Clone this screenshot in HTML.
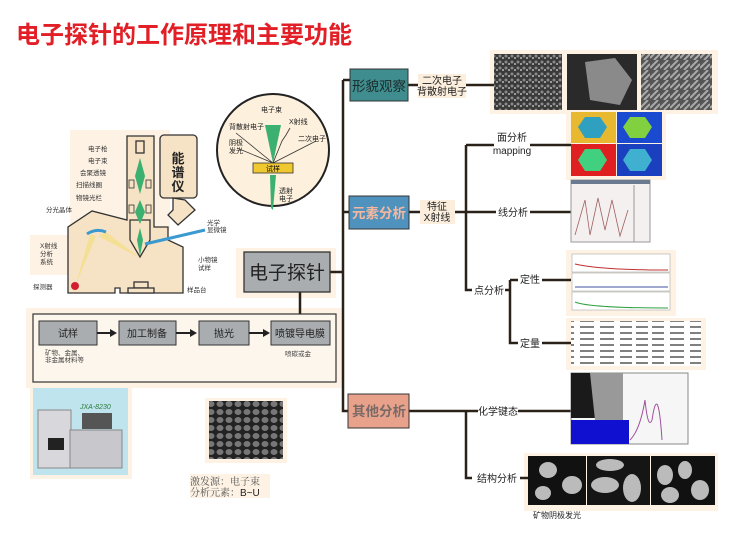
<!DOCTYPE html>
<html><head><meta charset="utf-8"><style>
html,body{margin:0;padding:0;background:#fff;}
svg{display:block;font-family:"Liberation Sans","Noto Sans CJK SC",sans-serif;}
</style></head><body>
<svg width="756" height="533" viewBox="0 0 756 533" xmlns="http://www.w3.org/2000/svg">
<defs>
<pattern id="sem1" width="6" height="6" patternUnits="userSpaceOnUse"><rect width="6" height="6" fill="#3a3a3a"/><circle cx="2" cy="2" r="1.5" fill="#8a8a8a"/><circle cx="5" cy="4" r="1" fill="#bbb"/></pattern>
<pattern id="rods" width="10" height="10" patternUnits="userSpaceOnUse"><rect width="10" height="10" fill="#555"/><path d="M0 8 L8 0 M4 10 L10 4" stroke="#aaa" stroke-width="2"/></pattern>
<pattern id="grain" width="9" height="8" patternUnits="userSpaceOnUse"><rect width="9" height="8" fill="#222"/><ellipse cx="4" cy="4" rx="3.5" ry="3" fill="#777"/></pattern>
<pattern id="tab" width="130" height="6" patternUnits="userSpaceOnUse"><rect width="130" height="6" fill="#fff"/><path d="M2 3 H14 M20 3 H34 M40 3 H54 M60 3 H74 M80 3 H94 M100 3 H112 M116 3 H128" stroke="#555" stroke-width="1.5"/></pattern>
</defs>
<rect width="756" height="533" fill="#fff"/>
<g fill="#fdf2e4">
<rect x="70" y="130" width="100" height="100"/><rect x="30" y="235" width="40" height="40"/>
<rect x="236" y="248" width="100" height="50"/><rect x="26" y="308" width="316" height="80"/>
<rect x="490" y="50" width="228" height="64"/><rect x="566" y="108" width="100" height="72"/>
<rect x="566" y="250" width="110" height="66"/><rect x="566" y="318" width="140" height="52"/>
<rect x="524" y="453" width="194" height="58"/><rect x="30" y="385" width="102" height="94"/>
<rect x="205" y="398" width="82" height="65"/><rect x="190" y="474" width="80" height="24"/>
</g>
<text x="16" y="43" font-size="24" font-weight="bold" fill="#e21f26">电子探针的工作原理和主要功能</text>

<g stroke="#333" stroke-width="1.3" fill="#f6e2c4">
<path d="M68 293 V227 L92 211 L127 220 V136 H154 V227 H168 V240 L183 247 V293 H120 V288 H115 V293 Z"/>
<path d="M130 220 H150 V240 L140 257 L130 240 Z"/>
<rect x="160" y="135" width="37" height="63" rx="4"/>
<path d="M173 198 V210 L168 215 L178 225 L195 210 L185 200 Z"/>
<rect x="134" y="282" width="14" height="6"/><rect x="128" y="288" width="26" height="5"/>
<rect x="136" y="141" width="8" height="12"/>
</g>
<g fill="none" stroke="#333" stroke-width="0.8"><rect x="129" y="180" width="5" height="8"/><rect x="146" y="180" width="5" height="8"/><rect x="129" y="205" width="5" height="8"/><rect x="146" y="205" width="5" height="8"/></g>
<text x="178" y="163" font-size="13" font-weight="bold" text-anchor="middle" fill="#222">能</text>
<text x="178" y="177" font-size="13" font-weight="bold" text-anchor="middle" fill="#222">谱</text>
<text x="178" y="191" font-size="13" font-weight="bold" text-anchor="middle" fill="#222">仪</text>
<path d="M140 158 L145 176 L140 194 L135 176 Z M140 200 L145 212 L140 224 L135 212 Z M140 228 L143 240 L140 256 L137 240 Z" fill="#3bb070"/>
<path d="M140 258 L98 236 L106 232 Z" fill="#f2e08a" opacity="0.8"/>
<path d="M90 234 L76 284 L96 236 Z" fill="#f2e08a" opacity="0.8"/>
<path d="M87 234 Q96 228 106 232" stroke="#3a9ad0" stroke-width="3" fill="none"/>
<path d="M145 244 L205 230" stroke="#3a9ad0" stroke-width="3"/>
<circle cx="75" cy="286" r="4" fill="#d02030"/>
<g font-size="6.5" fill="#333">
<text x="88" y="151">电子枪</text><text x="88" y="163">电子束</text><text x="80" y="175">会聚透镜</text><text x="76" y="187">扫描线圈</text><text x="76" y="200">物镜光栏</text><text x="46" y="212">分光晶体</text>
<text x="40" y="248">X射线</text><text x="40" y="256">分析</text><text x="40" y="264">系统</text><text x="33" y="289">探测器</text>
<text x="207" y="225">光学</text><text x="207" y="232">显微镜</text><text x="198" y="262">小物镜</text><text x="198" y="270">试样</text><text x="187" y="292">样品台</text>
</g>

<circle cx="273" cy="150" r="56" fill="#fdf0dc" stroke="#222" stroke-width="2"/>
<path d="M265 125 H281 L273 163 Z M270 175 H276 L273 210 L271 208 Z" fill="#3bb070"/>
<rect x="253" y="163" width="40" height="10" fill="#f0c830" stroke="#333" stroke-width="0.8"/>
<text x="273" y="171" font-size="7" text-anchor="middle">试样</text>
<g stroke="#333" stroke-width="0.8" fill="none"><path d="M273 163 L236 133 M273 163 L237 148 M273 163 L316 141 M273 163 L282 141 L286 135 L290 128"/></g>
<g font-size="7" fill="#222"><text x="261" y="112">电子束</text><text x="289" y="124">X射线</text><text x="229" y="129">背散射电子</text><text x="298" y="141">二次电子</text><text x="229" y="145">阴极</text><text x="229" y="153">发光</text><text x="279" y="193">透射</text><text x="279" y="201">电子</text></g>

<g stroke="#2a2218" stroke-width="2.5" fill="none">
<path d="M343 80 V411 H350"/><path d="M343 80 H350"/><path d="M343 212 H350"/>
<path d="M330 272 H343"/><path d="M300 292 V318"/>
<path d="M408 85 H418"/><path d="M466 85 H494"/>
<path d="M409 212 H420"/><path d="M455 212 H496 M466 145 V290 H472 M466 145 H494 M530 145 H571 M530 212 H571"/>
<path d="M505 290 H510 M510 280 V343 H518 M510 280 H518 M542 280 H571 M542 343 H571"/>
<path d="M409 411 H478 M466 411 V478 H472 M518 411 H571 M520 478 H528"/>
</g>
<rect x="244" y="252" width="86" height="40" fill="#a9adb0" stroke="#333" stroke-width="1.3"/>
<text x="287" y="279" font-size="19" text-anchor="middle" fill="#222">电子探针</text>
<rect x="350" y="69" width="58" height="32" fill="#3f8d8e" stroke="#333"/>
<text x="379" y="91" font-size="13.5" text-anchor="middle" fill="#1c2a2a">形貌观察</text>
<rect x="349" y="196" width="60" height="33" fill="#4f92bd" stroke="#333"/>
<text x="379" y="218" font-size="13.5" text-anchor="middle" fill="#f4b8a0" font-weight="bold">元素分析</text>
<rect x="348" y="394" width="61" height="34" fill="#e8a28b" stroke="#333"/>
<text x="379" y="416" font-size="13.5" text-anchor="middle" fill="#7a6a66" font-weight="bold">其他分析</text>

<g font-size="10" fill="#222" text-anchor="middle">
<rect x="418" y="74" width="48" height="24" fill="#fbeedd"/>
<text x="442" y="84">二次电子</text><text x="442" y="95">背散射电子</text>
<rect x="420" y="200" width="35" height="24" fill="#fbeedd"/>
<text x="437" y="210">特征</text><text x="437" y="221">X射线</text>
<text x="512" y="141">面分析</text><text x="512" y="154">mapping</text>
<text x="513" y="216">线分析</text><text x="489" y="294">点分析</text>
<text x="530" y="283">定性</text><text x="530" y="347">定量</text>
<text x="498" y="415">化学键态</text><text x="497" y="482">结构分析</text>
<text x="557" y="518" font-size="8">矿物阴极发光</text>
</g>

<rect x="494" y="54" width="68" height="56" fill="url(#sem1)"/>
<rect x="567" y="54" width="70" height="56" fill="#2a2a2a"/><path d="M585 62 L615 58 L632 80 L620 105 L590 100 Z" fill="#8a8a8a"/>
<rect x="641" y="54" width="71" height="56" fill="url(#rods)"/>
<g><rect x="571" y="112" width="45" height="31" fill="#e8b830"/><path d="M585 117 L600 117 L607 127 L600 138 L585 138 L578 127 Z" fill="#30a0c0"/>
<rect x="617" y="112" width="45" height="31" fill="#1a4ad0"/><path d="M630 117 L645 117 L652 127 L645 138 L630 138 L623 127 Z" fill="#80d040"/>
<rect x="571" y="144" width="45" height="32" fill="#e02020"/><path d="M585 149 L600 149 L607 160 L600 171 L585 171 L578 160 Z" fill="#40d080"/>
<rect x="617" y="144" width="45" height="32" fill="#1a40c0"/><path d="M630 149 L645 149 L652 160 L645 171 L630 171 L623 160 Z" fill="#40b0d0"/></g>
<rect x="571" y="180" width="79" height="62" fill="#f4f0f0" stroke="#999"/>
<rect x="571" y="180" width="79" height="4" fill="#6a7a90"/>
<path d="M575 235 L585 200 L590 235 L598 198 L605 230 L612 200 L620 236 L628 210" stroke="#a06060" fill="none" stroke-width="0.8"/>
<line x1="634" y1="185" x2="634" y2="242" stroke="#999"/>
<g fill="#fff" stroke="#aaa" stroke-width="0.6"><rect x="572" y="254" width="98" height="18"/><rect x="572" y="273" width="98" height="18"/><rect x="572" y="292" width="98" height="18"/></g>
<path d="M575 264 Q600 270 668 270" stroke="#c03030" fill="none"/>
<path d="M575 287 H668" stroke="#4050a0"/><path d="M575 302 Q590 308 668 308" stroke="#30a040" fill="none"/>
<rect x="571" y="321" width="130" height="45" fill="url(#tab)"/>
<rect x="571" y="373" width="117" height="71" fill="#f6f6f6" stroke="#888"/>
<rect x="571" y="373" width="52" height="45" fill="#1a1a1a"/><path d="M590 373 L623 373 L623 420 L595 420 Z" fill="#999"/>
<rect x="571" y="420" width="58" height="24" fill="#1010d0"/>
<path d="M630 440 Q640 430 645 400 Q648 430 652 420 Q658 380 662 440" stroke="#a050a0" fill="none"/>
<rect x="528" y="456" width="58" height="49" fill="#111"/><rect x="587" y="456" width="63" height="49" fill="#151515"/><rect x="651" y="456" width="64" height="49" fill="#111"/>
<g fill="#bbb"><ellipse cx="548" cy="470" rx="9" ry="8"/><ellipse cx="572" cy="485" rx="10" ry="9"/><ellipse cx="543" cy="493" rx="8" ry="7"/>
<ellipse cx="610" cy="465" rx="14" ry="6"/><ellipse cx="605" cy="485" rx="14" ry="8"/><ellipse cx="632" cy="488" rx="9" ry="14"/>
<ellipse cx="665" cy="475" rx="8" ry="10"/><ellipse cx="685" cy="470" rx="7" ry="9"/><ellipse cx="670" cy="495" rx="9" ry="8"/><ellipse cx="700" cy="490" rx="9" ry="10"/></g>

<rect x="33" y="314" width="303" height="68" fill="#fdf6ec" stroke="#333" stroke-width="1.2"/>
<g fill="#a9adb0" stroke="#333"><rect x="39" y="321" width="58" height="24"/><rect x="119" y="321" width="57" height="24"/><rect x="199" y="321" width="50" height="24"/><rect x="271" y="321" width="59" height="24"/></g>
<g stroke="#222" stroke-width="2"><line x1="97" y1="333" x2="112" y2="333"/><line x1="176" y1="333" x2="192" y2="333"/><line x1="249" y1="333" x2="265" y2="333"/></g>
<g fill="#222"><path d="M117 333 L110 329 V337 Z"/><path d="M197 333 L190 329 V337 Z"/><path d="M270 333 L263 329 V337 Z"/></g>
<g font-size="10" text-anchor="middle" fill="#222"><text x="68" y="337">试样</text><text x="147" y="337">加工制备</text><text x="224" y="337">抛光</text><text x="300" y="337">喷镀导电膜</text></g>
<g font-size="6.5" fill="#444"><text x="45" y="355">矿物、金属、</text><text x="45" y="362">非金属材料等</text><text x="285" y="356">喷碳或金</text></g>

<rect x="33" y="388" width="95" height="87" fill="#bfe4ee"/>
<rect x="38" y="410" width="33" height="58" fill="#d8d8dc" stroke="#888"/>
<rect x="70" y="430" width="52" height="38" fill="#c8c8cc" stroke="#888"/>
<rect x="82" y="413" width="30" height="16" fill="#555"/>
<rect x="48" y="438" width="16" height="12" fill="#222"/>
<text x="80" y="409" font-size="7" fill="#2a7a3a" font-style="italic">JXA-8230</text>
<rect x="209" y="401" width="74" height="58" fill="url(#grain)"/>
<g font-family="'Liberation Serif','Noto Serif CJK SC',serif" font-size="10" fill="#555"><text x="190" y="485">激发源：电子束</text><text x="190" y="496">分析元素：<tspan fill="#222" font-family="'Liberation Sans',sans-serif">B~U</tspan></text></g>
</svg>
</body></html>
